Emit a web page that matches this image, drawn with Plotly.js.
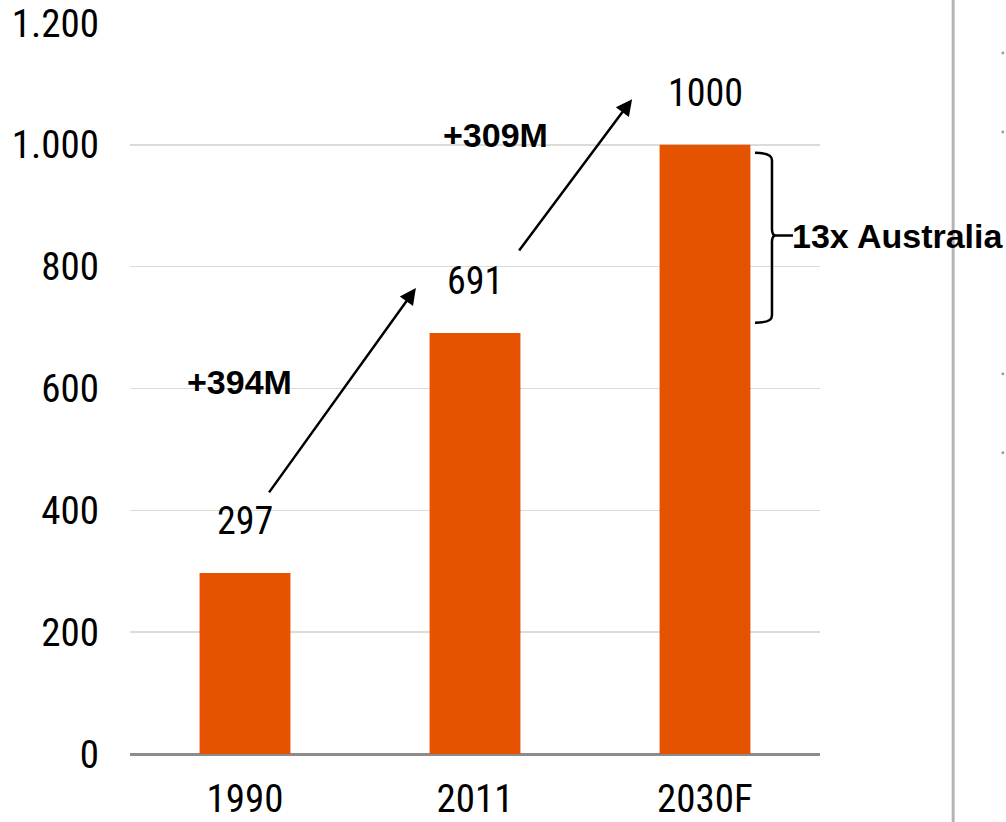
<!DOCTYPE html>
<html><head><meta charset="utf-8">
<script src="https://cdn.plot.ly/plotly-3.0.1.min.js"></script>
<style>html,body{margin:0;padding:0;background:#fff}#chart{width:1006px;height:822px}</style>
</head><body><div id="chart"></div>
<script>
const categories = ['1990', '2011', '2030F'];
const values = [297, 691, 1000];
const valueLabels = ['297', '691', '1000'];
const growthLabels = ['+394M', '+309M'];
const bracketLabel = '13x Australia';
const yTicks = [0, 200, 400, 600, 800, 1000, 1200];

const positions = categories.map((c, i) => i);
const narrow = '"Liberation Sans Narrow", "Roboto Condensed", "Arial Narrow", sans-serif';
const boldFont = {family: 'Liberation Sans, Arial, sans-serif', size: 34, color: '#000', weight: 'bold'};

const trace = {
  type: 'bar', x: positions, y: values, width: 0.395,
  marker: {color: '#E65300'}, hoverinfo: 'none'
};

const annotations = [];
positions.forEach((p, i) => {
  annotations.push({
    x: p, y: values[i], xref: 'x', yref: 'y', text: valueLabels[i], showarrow: false,
    yanchor: 'middle', yshift: 52, font: {family: narrow, size: 38, color: '#000'}
  });
});
// growth arrows
annotations.push({x: 0.743, y: 765, ax: 0.1, ay: 427, xref: 'x', yref: 'y', axref: 'x', ayref: 'y',
  text: '', showarrow: true, arrowhead: 2, arrowsize: 1.3, arrowwidth: 2.5, arrowcolor: '#000'});
annotations.push({x: 1.683, y: 1075, ax: 1.187, ay: 824, xref: 'x', yref: 'y', axref: 'x', ayref: 'y',
  text: '', showarrow: true, arrowhead: 2, arrowsize: 1.3, arrowwidth: 2.5, arrowcolor: '#000'});
annotations.push({x: -0.026, y: 611, xref: 'x', yref: 'y', text: '<b>' + growthLabels[0] + '</b>', showarrow: false, font: boldFont});
annotations.push({x: 1.087, y: 1016, xref: 'x', yref: 'y', text: '<b>' + growthLabels[1] + '</b>', showarrow: false, font: boldFont});
annotations.push({x: 0.9609, y: 850, xref: 'paper', yref: 'y', xanchor: 'left', yanchor: 'middle', xshift: -3,
  text: '<b>' + bracketLabel + '</b>', showarrow: false, font: boldFont});

const shapes = [
  {type: 'path', xref: 'paper', yref: 'y',
   path: 'M 0.9058,987 Q 0.9304,987 0.9304,975 L 0.9304,862 Q 0.9304,851 0.9362,851 L 0.9609,851 M 0.9362,851 Q 0.9304,851 0.9304,840 L 0.9304,720 Q 0.9304,708 0.9058,708',
   line: {color: '#000', width: 2.5}},
  {type: 'line', xref: 'paper', yref: 'paper', x0: 1.193, x1: 1.193, y0: -0.1, y1: 1.04,
   line: {color: '#b4b4b4', width: 3}}
];
[0.959, 0.851, 0.520, 0.412].forEach(py => {
  shapes.push({type: 'circle', xref: 'paper', yref: 'paper', x0: 1.263, x1: 1.267, y0: py - 0.002, y1: py + 0.002,
    fillcolor: '#999', line: {width: 0}});
});

const layout = {
  width: 1006, height: 822,
  margin: {l: 130, r: 186, t: 23, b: 68},
  paper_bgcolor: '#fff', plot_bgcolor: '#fff',
  separators: ',.',
  showlegend: false,
  xaxis: {
    range: [-0.5, 2.5], tickvals: positions, ticktext: categories,
    showgrid: false, showline: false, ticks: '', zeroline: false,
    tickfont: {family: narrow, size: 39, color: '#000'}, ticklabelstandoff: 18
  },
  yaxis: {
    range: [0, 1200], tickvals: yTicks, tickformat: ',d', showgrid: true, gridcolor: '#dcdcd6', gridwidth: 1.5,
    zeroline: true, zerolinecolor: '#8c8c8c', zerolinewidth: 3, showline: false, ticks: '',
    tickfont: {family: narrow, size: 39, color: '#000'}, ticklabelstandoff: 30
  },
  annotations: annotations,
  shapes: shapes
};

Plotly.newPlot('chart', [trace], layout, {displayModeBar: false, staticPlot: true});
</script>
</body></html>
